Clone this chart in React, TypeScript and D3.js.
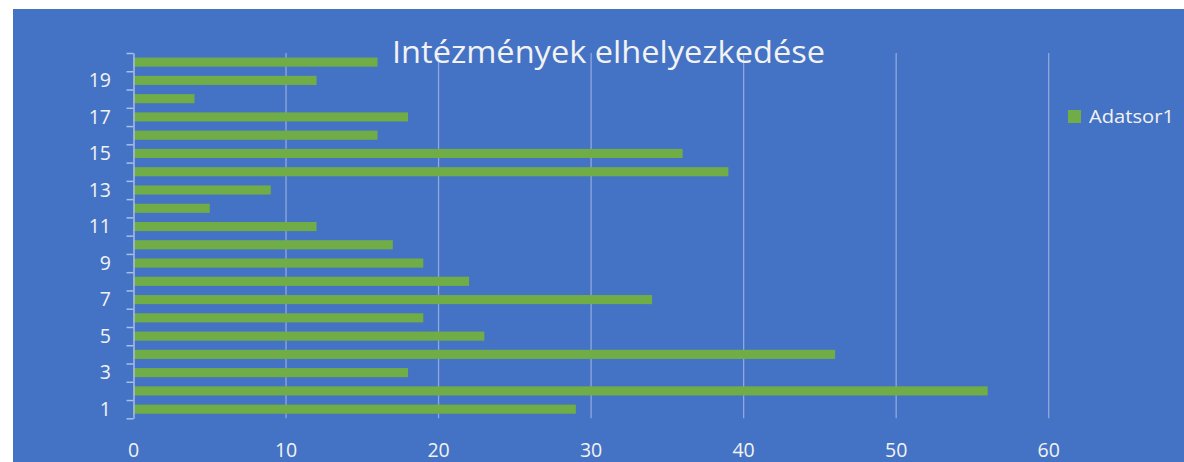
import { useEffect, useRef } from 'react';
import * as d3 from 'd3';

const categories = ['1', '2', '3', '4', '5', '6', '7', '8', '9', '10', '11', '12', '13', '14', '15', '16', '17', '18', '19', '20'];
const values = [29, 56, 18, 46, 23, 19, 34, 22, 19, 17, 12, 5, 9, 39, 36, 16, 18, 4, 12, 16];
const xTicks = [0, 10, 20, 30, 40, 50, 60];
const title = 'Intézmények elhelyezkedése';
const seriesName = 'Adatsor1';

const W = 1184;
const H = 462;
const FONT = '"Open Sans", "Noto Sans", sans-serif';

export default function App() {
  const svgRef = useRef<SVGSVGElement>(null);

  useEffect(() => {
    if (!svgRef.current) return;
    const svg = d3.select(svgRef.current);
    svg.selectAll('*').remove();

    // chart area background
    svg.append('rect').attr('width', W).attr('height', H).attr('fill', '#ffffff');
    svg.append('rect').attr('x', 13).attr('y', 9).attr('width', W - 13).attr('height', H - 9).attr('fill', '#4472C4');

    const plot = { left: 133.5, right: 1048.7, top: 53, bottom: 418.3 };

    const x = d3.scaleLinear().domain([0, 60]).range([plot.left, plot.right]);
    const y = d3
      .scaleBand<string>()
      .domain(categories.slice().reverse())
      .range([plot.top, plot.bottom])
      .paddingInner(0.5)
      .paddingOuter(0.25);
    const yEdge = d3.scaleLinear().domain([0, categories.length]).range([plot.bottom, plot.top]);

    // vertical gridlines
    svg
      .append('g')
      .selectAll('line')
      .data(xTicks.filter(t => t > 0))
      .enter()
      .append('line')
      .attr('x1', d => x(d))
      .attr('x2', d => x(d))
      .attr('y1', plot.top)
      .attr('y2', plot.bottom)
      .attr('stroke', '#8FA9DC')
      .attr('stroke-width', 1.3);

    // bars
    const data = categories.map((c, i) => ({ cat: c, value: values[i] }));
    svg
      .append('g')
      .selectAll('rect')
      .data(data)
      .enter()
      .append('rect')
      .attr('x', x(0))
      .attr('y', d => y(d.cat)!)
      .attr('width', d => x(d.value) - x(0))
      .attr('height', y.bandwidth())
      .attr('fill', '#70AD47');

    // y axis line + tick marks at category edges
    const yAxis = d3
      .axisLeft(yEdge)
      .tickValues(d3.range(0, categories.length + 1))
      .tickSize(7)
      .tickSizeOuter(0)
      .tickFormat(() => '');
    const yAxisG = svg.append('g').attr('transform', `translate(${plot.left},0)`).call(yAxis);
    yAxisG.selectAll('.domain, .tick line').attr('stroke', '#A9BFE6').attr('stroke-width', 1.5);

    // category labels (every other one)
    svg
      .append('g')
      .selectAll('text')
      .data(categories.filter((_, i) => i % 2 === 0))
      .enter()
      .append('text')
      .attr('x', 111)
      .attr('y', d => y(d)! + y.bandwidth() / 2)
      .attr('dy', '0.35em')
      .attr('text-anchor', 'end')
      .attr('fill', '#F2F2F2')
      .attr('font-family', FONT)
      .attr('font-size', 19.5)
      .text(d => d);

    // x tick labels
    svg
      .append('g')
      .selectAll('text')
      .data(xTicks)
      .enter()
      .append('text')
      .attr('x', d => x(d))
      .attr('y', 456.5)
      .attr('text-anchor', 'middle')
      .attr('fill', '#F2F2F2')
      .attr('font-family', FONT)
      .attr('font-size', 19.5)
      .text(d => d);

    // title
    svg
      .append('text')
      .attr('x', 608.5)
      .attr('y', 63)
      .attr('text-anchor', 'middle')
      .attr('fill', '#F2F2F2')
      .attr('font-family', FONT)
      .attr('font-size', 31)
      .attr('textLength', 433)
      .attr('lengthAdjust', 'spacingAndGlyphs')
      .text(title);

    // legend
    const legend = svg.append('g').attr('transform', 'translate(1068,110)');
    legend.append('rect').attr('width', 13).attr('height', 13).attr('fill', '#70AD47');
    legend
      .append('text')
      .attr('x', 21)
      .attr('y', 13)
      .attr('fill', '#F2F2F2')
      .attr('font-family', FONT)
      .attr('font-size', 18)
      .attr('textLength', 85)
      .attr('lengthAdjust', 'spacingAndGlyphs')
      .text(seriesName);
  }, []);

  return (
    <div style={{ position: 'absolute', left: 0, top: 0 }}>
      <svg ref={svgRef} width={W} height={H} style={{ display: 'block' }}></svg>
    </div>
  );
}
